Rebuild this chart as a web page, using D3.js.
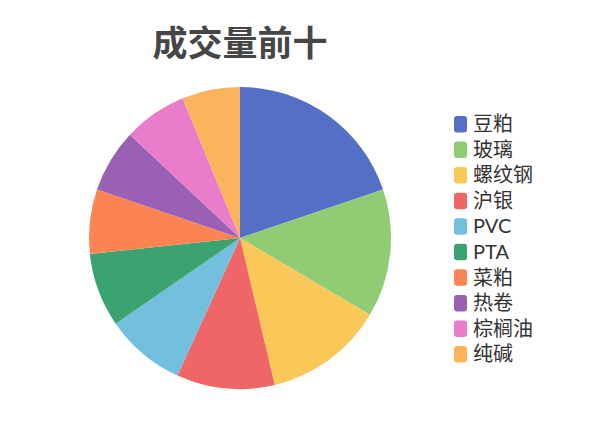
<!DOCTYPE html>
<html>
<head>
<meta charset="utf-8">
<script src="https://cdn.jsdelivr.net/npm/d3@7/dist/d3.min.js"></script>
<style>
  body { margin: 0; background: #fff; }
  svg { display: block; font-family: "Noto Sans CJK SC", "Noto Sans", sans-serif; }
  .legend text { font-family: Lato, "Noto Sans CJK SC", sans-serif; }
</style>
</head>
<body>
<svg id="chart" width="600" height="428"></svg>
<script>
// data (volume share, rough units)
const categories = ["豆粕", "玻璃", "螺纹钢", "沪银", "PVC", "PTA", "菜粕", "热卷", "棕榈油", "纯碱"];
const volumes = [198, 137, 128, 105, 86, 79, 69, 68, 68, 62];
const colors = ["#5470c6", "#91cc75", "#fac858", "#ee6666", "#73c0de", "#3ba272", "#fc8452", "#9a60b4", "#ea7ccc", "#fcb45c"];

const width = 600;
const height = 428;
const cx = 240, cy = 238, radius = 151;

const svg = d3.select("#chart");

// title
svg.append("text")
  .attr("x", cx)
  .attr("y", 56)
  .attr("text-anchor", "middle")
  .attr("font-size", 35)
  .attr("font-weight", "bold")
  .attr("fill", "#464646")
  .text("成交量前十");

const data = categories.map((name, i) => ({ name, value: volumes[i] }));

const pie = d3.pie()
  .value(d => d.value)
  .sort(null);

const arc = d3.arc()
  .innerRadius(0)
  .outerRadius(radius);

const color = d3.scaleOrdinal()
  .domain(categories)
  .range(colors);

const g = svg.append("g")
  .attr("transform", `translate(${cx}, ${cy})`);

g.selectAll("path")
  .data(pie(data))
  .join("path")
  .attr("d", arc)
  .attr("fill", d => color(d.data.name));

// legend
const legendY = d3.scalePoint()
  .domain(categories)
  .range([124, 354]);

const legend = svg.append("g")
  .attr("class", "legend")
  .selectAll("g")
  .data(categories)
  .join("g")
  .attr("transform", d => `translate(454, ${legendY(d)})`);

legend.append("rect")
  .attr("x", 0)
  .attr("y", -8)
  .attr("width", 13)
  .attr("height", 16.5)
  .attr("rx", 3)
  .attr("fill", d => color(d));

legend.append("text")
  .attr("x", 19)
  .attr("y", 0)
  .attr("dy", "0.36em")
  .attr("font-size", 20)
  .attr("fill", "#333")
  .text(d => d);
</script>
</body>
</html>
